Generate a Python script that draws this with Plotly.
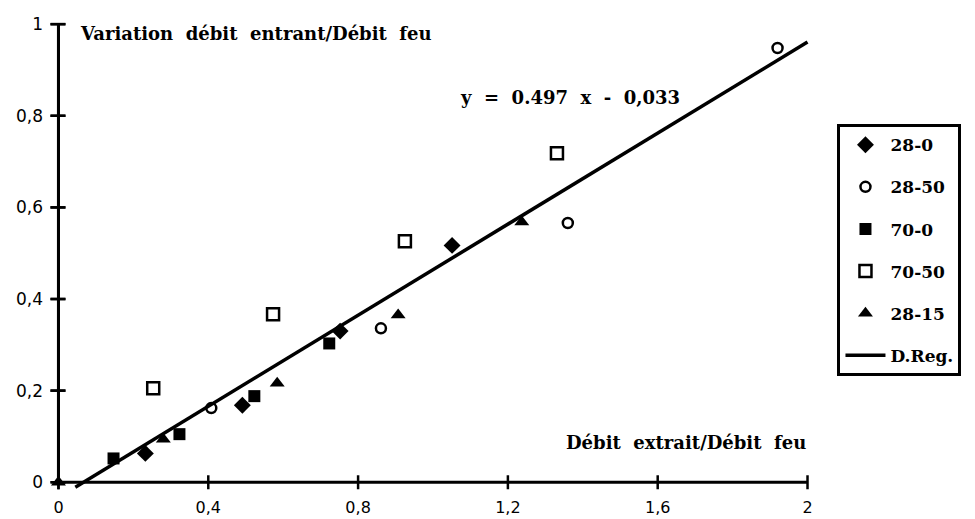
import plotly.graph_objects as go

# ---- data ----
x_28_0 = [0.232, 0.491, 0.752, 1.051]
y_28_0 = [0.063, 0.168, 0.330, 0.517]

x_28_50 = [0.408, 0.861, 1.360, 1.920]
y_28_50 = [0.162, 0.336, 0.566, 0.948]

x_70_0 = [0.147, 0.323, 0.523, 0.723]
y_70_0 = [0.052, 0.105, 0.188, 0.303]

x_70_50 = [0.253, 0.573, 0.925, 1.331]
y_70_50 = [0.205, 0.367, 0.526, 0.718]

x_28_15 = [0.0, 0.280, 0.584, 0.907, 1.237]
y_28_15 = [0.0, 0.094, 0.216, 0.365, 0.568]

slope = 0.497
intercept = -0.033
reg_x = [0.045, 2.0]
reg_y = [slope * v + intercept for v in reg_x]

xtick_vals = [0, 0.4, 0.8, 1.2, 1.6, 2]
xtick_text = ["0", "0,4", "0,8", "1,2", "1,6", "2"]
ytick_vals = [0, 0.2, 0.4, 0.6, 0.8, 1]
ytick_text = ["0", "0,2", "0,4", "0,6", "0,8", "1"]

SERIF = "DejaVu Serif"
SANS = "DejaVu Sans"

# ---- geometry: axes drawn inside a slightly larger plotting window ----
W, H = 975, 519
PX_X, PX_Y = 375.0, 458.0          # pixels per data unit
X0_PX, Y0_PX = 58.0, 482.0         # pixel position of the origin
XR = (-0.06, 2.02)
YR = (-0.03, 1.02)
ML = X0_PX + XR[0] * PX_X
PW = (XR[1] - XR[0]) * PX_X
MR = W - ML - PW
MT = Y0_PX - YR[1] * PX_Y
PH = (YR[1] - YR[0]) * PX_Y
MB = H - MT - PH
dx, dy = 1 / PX_X, 1 / PX_Y

def xpaper(xv):
    """data x -> paper fraction"""
    return (xv - XR[0]) / (XR[1] - XR[0])

fig = go.Figure()

# axis frame: axis lines + crossing ticks (traces)
ax_x = [0, 0, None, 0, 2, None]
ax_y = [0, 1, None, 0, 0, None]
fig.add_trace(go.Scatter(x=ax_x, y=ax_y, mode="lines", showlegend=False,
                         hoverinfo="skip", line=dict(color="black", width=3)))
tk_x, tk_y = [], []
for t in xtick_vals:
    tk_x += [t, t, None]
    tk_y += [-7 * dy, 7 * dy, None]
for t in ytick_vals:
    tk_x += [-8 * dx, 7 * dx, None]
    tk_y += [t, t, None]
fig.add_trace(go.Scatter(x=tk_x, y=tk_y, mode="lines", showlegend=False,
                         hoverinfo="skip", line=dict(color="black", width=2.5)))

# the vertical axis and its ticks again, as paper-referenced shapes
shapes = [dict(type="line", xref="paper", yref="y",
               x0=xpaper(0), x1=xpaper(0), y0=0, y1=1,
               line=dict(color="black", width=3), layer="above")]
for t in ytick_vals:
    shapes.append(dict(type="line", xref="paper", yref="y",
                       x0=xpaper(-8 * dx), x1=xpaper(7 * dx), y0=t, y1=t,
                       line=dict(color="black", width=2.5), layer="above"))
shapes.append(dict(type="line", xref="paper", yref="y",
                   x0=xpaper(0), x1=xpaper(0), y0=-7 * dy, y1=7 * dy,
                   line=dict(color="black", width=2.5), layer="above"))

def add_series(x, y, name, symbol, size, lw=0):
    fig.add_trace(go.Scatter(
        x=x, y=y, mode="markers", name=name, legendgroup=name,
        cliponaxis=False,
        marker=dict(symbol=symbol, size=size, color="black",
                    line=dict(color="black", width=lw)),
    ))

add_series(x_28_0, y_28_0, "28-0", "diamond", 13)
add_series(x_28_50, y_28_50, "28-50", "circle-open", 10, 2.5)
add_series(x_70_0, y_70_0, "70-0", "square", 12)
add_series(x_70_50, y_70_50, "70-50", "square-open", 12, 2.5)
add_series(x_28_15, y_28_15, "28-15", "triangle-up", 13)

fig.add_trace(go.Scatter(
    x=reg_x, y=reg_y, mode="lines", name="D.Reg.", legendgroup="D.Reg.",
    line=dict(color="black", width=3.5),
))

title_font = dict(family=SERIF, size=18, color="black", weight="bold")
annotations = [
    dict(text="Variation  débit  entrant/Débit  feu", x=0.053, y=0.98,
         xref="x", yref="y", xanchor="left", yanchor="middle", showarrow=False,
         font=title_font),
    dict(text="y  =  0.497  x  -  0,033", x=1.067, y=0.84,
         xref="x", yref="y", xanchor="left", yanchor="middle", showarrow=False,
         font=title_font),
    dict(text="Débit  extrait/Débit  feu", x=2.0, y=0.087,
         xref="x", yref="y", xanchor="right", yanchor="middle", showarrow=False,
         font=title_font),
]

legend_left_px, legend_top_px = 838.0, 124.0

fig.update_layout(
    width=W, height=H, autosize=False,
    margin=dict(l=ML, r=MR, t=MT, b=MB),
    paper_bgcolor="white", plot_bgcolor="white",
    annotations=annotations, shapes=shapes,
    showlegend=True,
    legend=dict(x=(legend_left_px - ML) / PW,
                y=(MT + PH - legend_top_px) / PH,
                xanchor="left", yanchor="top",
                bordercolor="black", borderwidth=3, bgcolor="white",
                font=dict(family=SERIF, size=17, color="black", weight="bold"),
                tracegroupgap=17, itemwidth=40),
    xaxis=dict(range=list(XR), showline=False, showgrid=False, zeroline=False,
               tickvals=xtick_vals, ticktext=xtick_text, ticks="",
               automargin=False,
               tickfont=dict(family=SANS, size=16, color="black")),
    yaxis=dict(range=list(YR), showline=False, showgrid=False, zeroline=False,
               tickvals=ytick_vals, ticktext=ytick_text,
               anchor="free", position=(X0_PX - ML) / PW,
               ticks="outside", ticklen=12, tickcolor="rgba(0,0,0,0)",
               automargin=False,
               tickfont=dict(family=SANS, size=17, color="black")),
)

fig.write_html("out.html")
